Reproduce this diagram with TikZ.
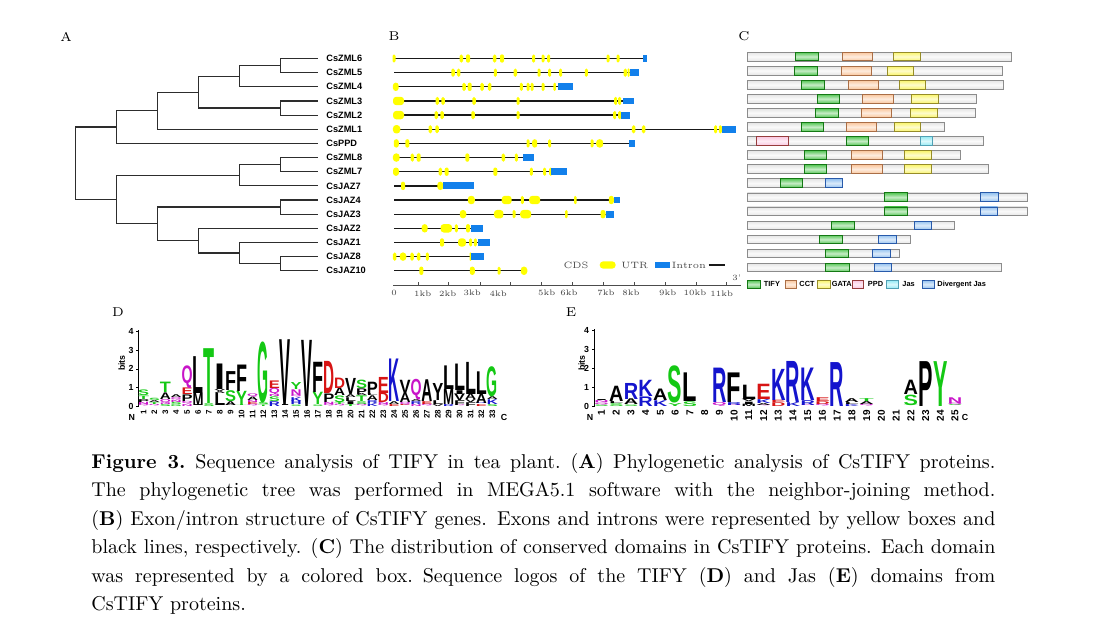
\documentclass[tikz,border=0pt]{standalone}
\usepackage{fontspec}
\usepackage{graphicx}
\usetikzlibrary{positioning,calc}
\newfontfamily\arial{Liberation Sans}

\definecolor{treeline}{RGB}{45,45,45}
\definecolor{intronline}{RGB}{25,25,25}
\definecolor{cdsyellow}{RGB}{255,255,0}
\definecolor{utrblue}{RGB}{18,128,235}
\definecolor{tifyfill}{RGB}{90,200,90}
\definecolor{tifyline}{RGB}{20,120,20}
\definecolor{cctfill}{RGB}{250,200,160}
\definecolor{cctline}{RGB}{170,110,70}
\definecolor{gatafill}{RGB}{250,245,110}
\definecolor{gataline}{RGB}{150,140,40}
\definecolor{ppdfill}{RGB}{250,200,225}
\definecolor{ppdline}{RGB}{150,60,60}
\definecolor{jasfill}{RGB}{150,235,245}
\definecolor{jasline}{RGB}{80,160,180}
\definecolor{djasfill}{RGB}{150,195,240}
\definecolor{djasline}{RGB}{40,90,170}
\definecolor{lg}{RGB}{20,200,20}
\definecolor{lb}{RGB}{20,20,205}
\definecolor{lr}{RGB}{215,20,20}
\definecolor{lm}{RGB}{200,20,200}
\definecolor{lk}{RGB}{0,0,0}

% yellow exons of one gene row
\newcommand\exons[2]{%
  \foreach \ex/\ew in {#2}{%
    \pgfmathsetmacro\rc{min(0.25*\ew,1.6)}%
    \fill[cds, rounded corners=\rc pt] ({\ex-\ew/2},{#1-4.2}) rectangle ({\ex+\ew/2},{#1+4.2});}}

% protein bar with its domains
\newcommand\dombar[3]{%
  \path[cbar] (747.3,{#1-4.3}) rectangle (#2,{#1+4.3});
  \foreach \domA/\domB/\domT in {#3}
    \path[dom=\domT] (\domA,{#1-4.3}) rectangle (\domB,{#1+4.3});}

% one stack of a sequence logo
\newcommand\logostack[5]{%
  \gdef\stackbase{0}%
  \foreach \lcol/\lettr/\lht in #5{%
    \pgfmathsetmacro\lhpt{\lht*#3*0.5}%
    \node[logoletter, text=\lcol] at (#1,{#2-#3*\stackbase}) {\resizebox*{#4}{\lhpt pt}{\lettr}};%
    \pgfmathparse{\stackbase+\lht}\xdef\stackbase{\pgfmathresult}}}

\begin{document}
\begin{tikzpicture}[
  x=0.5pt, y=-0.5pt,
  leaf/.style={anchor=west, inner xsep=4pt, inner ysep=0.6pt, font=\arial\bfseries\fontsize{4.6}{5}\selectfont},
  branch/.style={draw=treeline, line width=0.6pt},
  panel/.style={font=\fontsize{6.4}{7}\selectfont, inner sep=0pt},
  intron/.style={draw=intronline, line width=0.65pt},
  cds/.style={fill=cdsyellow},
  utr/.style={fill=utrblue},
  kbaxis/.style={draw=black!70, line width=0.35pt},
  kblab/.style={font=\fontsize{4}{4}\selectfont, text=black!75, inner sep=0pt},
  legtext/.style={font=\fontsize{4.6}{5}\selectfont, text=black!70, inner sep=0pt},
  cbar/.style={draw=black!45, top color=black!10, bottom color=black!10, middle color=black!2, line width=0.4pt},
  dom/.style={draw=#1line, top color=#1fill, bottom color=#1fill, middle color=#1fill!35!white, line width=0.45pt},
  domleg/.style={font=\arial\bfseries\fontsize{3.7}{4}\selectfont, anchor=west, inner sep=0pt},
  logoletter/.style={anchor=south, inner sep=0pt, font=\arial\bfseries},
  logoaxis/.style={draw=black, line width=0.4pt},
  ticklab/.style={font=\arial\bfseries\fontsize{4.4}{5}\selectfont, inner sep=1pt},
  colnum/.style={anchor=east, rotate=90, inner sep=0pt},
  caption/.style={anchor=north west, inner sep=0pt, text width=452pt, align=justify, font=\fontsize{10}{14.2}\selectfont}
]
\useasboundingbox (0,0) rectangle (1114,634);

\node[panel] (labA) at (66,37) {A};
\node[panel] (labB) at (394,36) {B};
\node[panel] (labC) at (744,36) {C};
\node[panel] (labD) at (118,312) {D};
\node[panel] (labE) at (571,312) {E};

% A: tree
\foreach \n [count=\i] in {CsZML6,CsZML5,CsZML4,CsZML3,CsZML2,CsZML1,CsPPD,CsZML8,CsZML7,CsJAZ7,CsJAZ4,CsJAZ3,CsJAZ2,CsJAZ1,CsJAZ8,CsJAZ10}
  \node[leaf] (\n) at (318,{58.5+14.15*(\i-1)}) {\n};
\coordinate (n65) at (280.7,65.575);
\coordinate (n654) at (239.3,76.19);
\coordinate (n32) at (280.7,108.025);
\coordinate (nzml) at (198.3,92.11);
\coordinate (nzml1) at (157.3,110.68);
\coordinate (nup) at (116.7,127.04);
\coordinate (n87) at (280.7,164.625);
\coordinate (n877) at (239.3,175.24);
\coordinate (n43) at (280.7,207.075);
\coordinate (n810) at (280.7,263.675);
\coordinate (n1) at (239.3,253.06);
\coordinate (n2) at (198.3,240.68);
\coordinate (njaz) at (157.3,223.88);
\coordinate (nlow) at (116.7,199.56);
\coordinate (root) at (75.7,163.3);
\draw[branch] (n65) |- (CsZML6.west) (n65) |- (CsZML5.west);
\draw[branch] (n654) |- (n65) (n654) |- (CsZML4.west);
\draw[branch] (n32) |- (CsZML3.west) (n32) |- (CsZML2.west);
\draw[branch] (nzml) |- (n654) (nzml) |- (n32);
\draw[branch] (nzml1) |- (nzml) (nzml1) |- (CsZML1.west);
\draw[branch] (nup) |- (nzml1) (nup) |- (CsPPD.west);
\draw[branch] (n87) |- (CsZML8.west) (n87) |- (CsZML7.west);
\draw[branch] (n877) |- (n87) (n877) |- (CsJAZ7.west);
\draw[branch] (n43) |- (CsJAZ4.west) (n43) |- (CsJAZ3.west);
\draw[branch] (n810) |- (CsJAZ8.west) (n810) |- (CsJAZ10.west);
\draw[branch] (n1) |- (CsJAZ1.west) (n1) |- (n810);
\draw[branch] (n2) |- (CsJAZ2.west) (n2) |- (n1);
\draw[branch] (njaz) |- (n43) (njaz) |- (n2);
\draw[branch] (nlow) |- (n877) (nlow) |- (njaz);
\draw[branch] (root) |- (nup) (root) |- (nlow);

% B: gene structures
\foreach \y/\e in {58.5/644.7,72.65/629.7,86.8/558,100.95/623,115.1/621.3,129.25/722.3,143.4/628.7,157.55/523,
  171.7/551.3,185.85/443,200/613.7,214.15/606.3,228.3/470.7,242.45/478,256.6/470.7,270.75/522}
  \draw[intron] (394,\y) -- (\e,\y);
\exons{58.5}{394/3,461.3/3.5,468/4,494.7/3.5,502/4,533.7/3,543/3,548.7/3,608/3,618/3}
\exons{72.65}{453/3.5,458.7/3.5,495.3/3,515.3/3.5,539/3,549.7/3,560.7/3,586.3/3,625.3/3.5,628.5/2}
\exons{86.8}{395.8/5.7,464/3.5,469.7/4,482/3.5,489.7/3.5,521.3/3,528/3,532/3,543/3,554.7/2.5}
\exons{100.95}{398.5/11,437.3/3.5,443/3.5,474/3.5,518/3,615.7/3,619.7/3}
\exons{115.1}{398.5/11,436.3/3.5,442/3.5,473/3.5,518/3,614.7/3,619.7/3}
\exons{129.25}{396.6/7.3,430.3/3.5,437/3.5,633.7/3.5,643.7/3.5,715.7/3,720.3/3}
\exons{143.4}{396.3/5,407.3/4,528/3,534.7/5,549.7/3,592/3,599.7/7}
\exons{157.55}{396.3/6.7,412.3/3.5,418.7/4,467.3/4,503.3/3.5,516.3/3}
\exons{171.7}{396/6,440.3/3.5,446.7/4,495.3/4,531.3/3,544.7/3,550.7/3}
\exons{185.85}{403/4,440.3/6}
\exons{200}{471.3/7,506.7/10,522.3/3,534.7/11,575.3/2.5,611.3/5}
\exons{214.15}{463/6.5,498.7/9.5,514/3,525.7/11,566.3/2.5,603/5}
\exons{228.3}{424.7/6,446.3/11.5,456.3/3,468/4}
\exons{242.45}{442/4,462/8,470.7/3,475.3/3}
\exons{256.6}{394.7/3.5,403/6.5,412/3.5,418.7/3.5,427.3/3,470.5/2}
\exons{270.75}{421.3/4,472.3/5,499/3,524/6.5}
\foreach \y/\a/\b in {58.5/643.2/646.6,72.65/629.7/638.7,86.8/558/573.3,100.95/623/633.7,115.1/621.3/629.7,
  129.25/722.3/736.3,143.4/628.7/634.7,157.55/523/533.7,171.7/551.3/567.3,185.85/443/473.7,200/613.7/620.3,
  214.15/606.3/613.7,228.3/470.7/483,242.45/478/489.7,256.6/470.7/484}
  \fill[utr] (\a,{\y-3.4}) rectangle (\b,{\y+3.4});

\node[legtext] (cdsleg) at (576,265) {CDS};
\fill[cds, rounded corners=1.8pt] (599.7,261.3) rectangle (615.7,268.7);
\node[legtext] (utrleg) at (634.7,265) {UTR};
\fill[utr] (654.7,261.6) rectangle (669.7,268.4);
\node[legtext] (intronleg) at (689,265) {Intron};
\draw[intron] (708.7,265) -- (724.7,265);

\draw[kbaxis] (393,285) -- (741,285);
\foreach \t in {418.3,448.3,480,510,541.7,572.3,603.3,634.3,665,696,726.7}
  \draw[kbaxis] (\t,285) -- (\t,282.3);
\foreach \t/\s [count=\i] in {394/0,422.7/1kb,447.7/2kb,472.3/3kb,498.3/4kb,546.7/5kb,569/6kb,606/7kb,631/8kb,667.7/9kb,695/10kb,721.7/11kb}
  \node[kblab] (kb\i) at (\t,293.3) {\s};
\node[kblab] (end3) at (736.7,278) {3'};

% C: conserved domains
\dombar{56.6}{1011.7}{795/818.7/tify,842.3/872.7/cct,893.3/920.3/gata}
\dombar{70.66}{1002.7}{794/817.7/tify,841/871/cct,887.3/913.3/gata}
\dombar{84.72}{1003.3}{801/824.3/tify,848.3/878.3/cct,899.3/925.7/gata}
\dombar{98.78}{976.7}{817.3/839.3/tify,862.7/893.3/cct,911.7/938.3/gata}
\dombar{112.84}{975}{815.3/838.7/tify,861.3/891.7/cct,910.3/937.3/gata}
\dombar{126.9}{944.3}{801/823.3/tify,846/876.7/cct,894.3/920.7/gata}
\dombar{140.96}{983.3}{756.7/788.3/ppd,846.3/868.7/tify,920/932.7/jas}
\dombar{155.02}{960}{804/826.7/tify,851.3/882.7/cct,904.3/931.7/gata}
\dombar{169.08}{988.7}{804/826.7/tify,851.3/882.7/cct,904.3/931.7/gata}
\dombar{183.14}{842.3}{780.3/802.7/tify,825/842.3/djas}
\dombar{197.2}{1027.3}{884.3/907.7/tify,980/998.7/djas}
\dombar{211.26}{1027.3}{884.3/907.7/tify,980/997.7/djas}
\dombar{225.32}{954}{831.3/854.7/tify,914.3/931.7/djas}
\dombar{239.38}{910.7}{819.3/842.3/tify,878.3/896.7/djas}
\dombar{253.44}{899.3}{825.3/848.3/tify,872.3/890/djas}
\dombar{267.5}{1001.7}{825.3/849/tify,874.3/891.7/djas}

\foreach \domA/\domB/\domT/\tx/\s in {747.3/760.7/tify/763.5/TIFY,785/796/cct/799/CCT,817.3/830/gata/831.5/GATA,
  852.3/863.3/ppd/867.5/PPD,886.7/898.3/jas/902/Jas,922.7/934/djas/937/Divergent Jas}{
  \path[dom=\domT] (\domA,280.5) rectangle (\domB,288.1);
  \node[domleg] (leg\domT) at (\tx,284.3) {\s};}

% D: TIFY logo
\draw[logoaxis] (138.3,406.7) -- (138.3,329.5);
\foreach \b in {0,...,4}
  \draw[logoaxis] (138.3,{406.7-18.9*\b}) -- ++(-2.5,0) node[ticklab, anchor=east] (dt\b) {\b};
\node[ticklab, rotate=90] (dbits) at (121.7,363) {bits};
\node[ticklab] (dN) at (131.7,417.5) {N};
\node[ticklab] (dC) at (504,417.5) {C};
\foreach \i in {1,...,33}
  \node[colnum, font=\arial\bfseries\fontsize{4}{4}\selectfont] (dn\i) at ({143.5+10.9*(\i-1)},409.5) {\i};
\foreach \col/\stk in {
  1/{lm/Q/0.1,lm/N/0.12,lk/P/0.15,lg/T/0.18,lg/S/0.3},
  2/{lm/Q/0.08,lg/T/0.1,lk/A/0.1,lg/S/0.12},
  3/{lg/S/0.1,lm/N/0.08,lm/Q/0.2,lk/A/0.35,lg/T/0.55},
  4/{lg/G/0.1,lg/S/0.12,lm/N/0.12,lm/Q/0.13,lk/A/0.15},
  5/{lm/N/0.1,lm/Q/0.15,lk/P/0.35,lr/E/0.35,lm/Q/1.2},
  6/{lk/I/0.05,lk/M/0.65,lk/L/1.95},
  7/{lg/S/0.15,lg/T/2.9},
  8/{lk/V/0.05,lk/L/0.65,lk/A/0.1,lk/V/0.1,lk/I/1.35},
  9/{lk/V/0.05,lk/A/0.2,lg/S/0.58,lk/F/1.0},
  10/{lg/T/0.05,lg/Y/0.75,lk/F/1.4},
  11/{lm/Q/0.1,lr/E/0.12,lm/N/0.1,lk/A/0.18,lm/Q/0.18},
  12/{lg/T/0.08,lg/S/0.1,lg/G/3.25},
  13/{lb/R/0.25,lg/S/0.25,lm/N/0.1,lm/Q/0.35,lr/E/0.4},
  14/{lk/I/0.05,lk/V/3.48},
  15/{lg/S/0.08,lb/H/0.2,lb/K/0.2,lm/Q/0.1,lm/N/0.3,lg/Y/0.37},
  16/{lk/V/3.5},
  17/{lg/S/0.08,lg/Y/0.65,lk/F/1.6},
  18/{lm/Q/0.1,lm/N/0.12,lk/P/0.45,lr/D/1.7},
  19/{lm/Q/0.1,lg/T/0.1,lg/S/0.35,lk/A/0.4,lr/D/0.55},
  20/{lg/T/0.1,lk/I/0.15,lk/L/0.2,lk/A/0.15,lk/V/0.85},
  21/{lm/Q/0.1,lg/S/0.15,lg/T/0.3,lk/A/0.1,lk/P/0.3,lg/S/0.45},
  22/{lb/K/0.15,lb/R/0.15,lk/A/0.25,lk/L/0.1,lk/P/0.65},
  23/{lm/Q/0.1,lm/N/0.1,lr/D/0.5,lr/E/0.85},
  24/{lr/E/0.1,lk/A/0.15,lb/K/2.25},
  25/{lr/E/0.05,lm/Q/0.15,lk/A/0.5,lk/V/0.7},
  26/{lm/N/0.1,lb/R/0.15,lk/A/0.1,lm/Q/1.1},
  27/{lm/Q/0.1,lr/E/0.15,lk/A/1.15},
  28/{lk/V/0.1,lk/L/0.2,lk/Y/0.9},
  29/{lb/R/0.1,lk/M/0.8,lk/L/1.25},
  30/{lm/Q/0.05,lk/F/0.25,lk/V/0.35,lk/I/0.2,lk/L/1.4},
  31/{lk/F/0.2,lk/V/0.15,lk/A/0.3,lk/L/1.7},
  32/{lr/E/0.1,lb/R/0.05,lk/A/0.5,lk/L/1.2},
  33/{lg/S/0.1,lb/K/0.25,lk/A/0.15,lg/G/1.6}}{%
  \pgfmathsetmacro\colx{143.5+10.9*(\col-1)}%
  \logostack{\colx}{406.7}{18.9}{5.5pt}{\stk}}

% E: Jas logo
\draw[logoaxis] (594,406.7) -- (594,329);
\foreach \b in {0,...,4}
  \draw[logoaxis] (594,{406.7-19.1*\b}) -- ++(-2.5,0) node[ticklab, anchor=east] (et\b) {\b};
\node[ticklab, rotate=90] (ebits) at (581.7,363) {bits};
\node[ticklab] (eN) at (590,417.5) {N};
\node[ticklab] (eC) at (965,417.5) {C};
\foreach \i in {1,...,25}
  \node[colnum, font=\arial\bfseries\fontsize{5}{5}\selectfont] (en\i) at ({601.5+14.73*(\i-1)},409.5) {\i};
\foreach \col/\stk in {
  1/{lg/S/0.08,lm/Q/0.1,lm/N/0.1,lk/I/0.05},
  2/{lg/S/0.15,lk/L/0.1,lk/A/0.8},
  3/{lg/S/0.08,lk/A/0.3,lb/R/0.84},
  4/{lb/R/0.5,lb/K/0.85},
  5/{lb/K/0.3,lk/A/0.6},
  6/{lg/Y/0.15,lg/S/1.95},
  7/{lg/S/0.25,lk/L/1.5},
  9/{lm/Q/0.2,lb/R/1.8},
  10/{lm/N/0.05,lb/R/0.15,lk/F/1.55},
  11/{lk/M/0.12,lk/I/0.12,lk/V/0.12,lk/L/0.75},
  12/{lm/Q/0.05,lk/A/0.1,lb/K/0.2,lr/E/0.8},
  13/{lr/D/0.2,lr/E/0.12,lb/K/1.63},
  14/{lb/K/0.2,lb/R/2.15},
  15/{lm/N/0.05,lb/R/0.25,lb/K/1.7},
  16/{lm/Q/0.1,lr/D/0.15,lr/E/0.2},
  17/{lb/R/2.3},
  18/{lb/K/0.1,lk/L/0.1,lk/A/0.2},
  19/{lm/Q/0.1,lk/A/0.15,lg/T/0.15},
  22/{lg/T/0.05,lg/S/0.55,lk/A/0.75},
  23/{lk/P/2.35},
  24/{lg/Y/2.35},
  25/{lg/S/0.05,lm/Q/0.1,lm/N/0.3}}{%
  \pgfmathsetmacro\colx{601.5+14.73*(\col-1)}%
  \logostack{\colx}{406.7}{19.1}{7.2pt}{\stk}}

% caption
\node[caption] (cap) at (91,453) {\textbf{Figure 3.}\enspace Sequence analysis of TIFY in tea plant.\enspace (\textbf{A}) Phylogenetic analysis of CsTIFY proteins.\linebreak
The phylogenetic tree was performed in MEGA5.1 software with the neighbor-joining method.\linebreak
(\textbf{B}) Exon/intron structure of CsTIFY genes. Exons and introns were represented by yellow boxes and\linebreak
black lines, respectively. (\textbf{C}) The distribution of conserved domains in CsTIFY proteins. Each domain\linebreak
was represented by a colored box.\enspace Sequence logos of the TIFY (\textbf{D}) and Jas (\textbf{E}) domains from\linebreak
CsTIFY proteins.};
\end{tikzpicture}
\end{document}
